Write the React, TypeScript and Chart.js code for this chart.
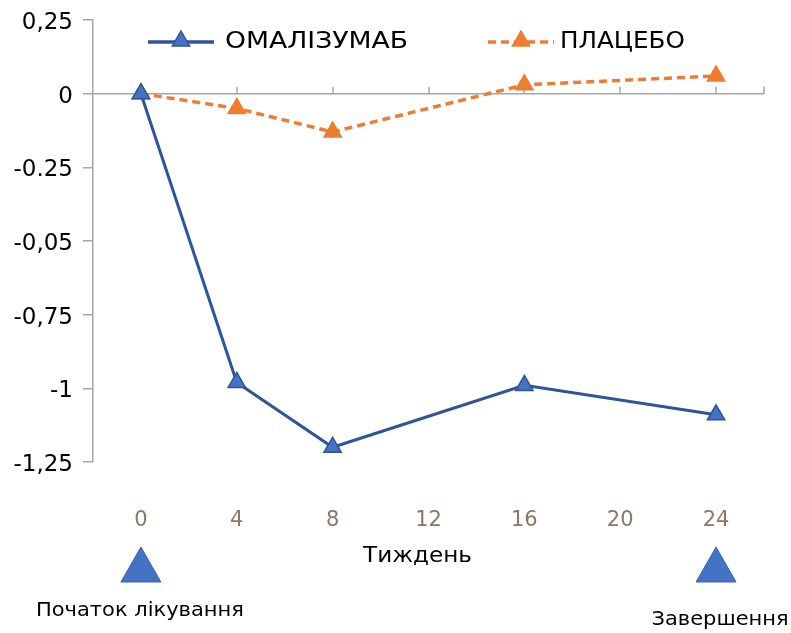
import React, { useEffect, useRef } from "react";
import { Chart, registerables } from "chart.js";

Chart.register(...registerables);

const weeks = [0, 4, 8, 16, 24];
const omalizumab = [0, -0.98, -1.2, -0.99, -1.09];
const placebo = [0, -0.05, -0.13, 0.03, 0.06];
const seriesNames = ["ОМАЛІЗУМАБ", "ПЛАЦЕБО"];
const yTickLabels = ["0,25", "0", "-0.25", "-0,05", "-0,75", "-1", "-1,25"];
const xTickValues = [0, 4, 8, 12, 16, 20, 24];
const xTitle = "Тиждень";
const milestones = [
  { week: 0, label: "Початок лікування" },
  { week: 24, label: "Завершення" },
];

const FONT = "'DejaVu Sans', sans-serif";
const BLUE_FILL = "#4472c4";
const BLUE_LINE = "#2f5597";
const ORANGE = "#ed7d31";
const AXIS = "#a6a6a6";

function tri(ctx: CanvasRenderingContext2D, cx: number, cy: number, r: number) {
  ctx.beginPath();
  ctx.moveTo(cx, cy - r);
  ctx.lineTo(cx + r * 0.866, cy + r * 0.5);
  ctx.lineTo(cx - r * 0.866, cy + r * 0.5);
  ctx.closePath();
}

function stretchedText(
  ctx: CanvasRenderingContext2D,
  text: string,
  x: number,
  y: number,
  size: number,
  sx: number,
  align: CanvasTextAlign
) {
  ctx.save();
  ctx.font = `${size}px ${FONT}`;
  ctx.textAlign = align;
  ctx.textBaseline = "middle";
  ctx.fillStyle = "#000";
  ctx.translate(x, y);
  ctx.scale(sx, 1);
  ctx.fillText(text, 0, 0);
  ctx.restore();
}

const decor = {
  id: "decor",
  beforeDatasetsDraw(chart: any) {
    const { ctx, scales } = chart;
    const x = scales.x;
    const y = scales.y;
    const y0 = y.getPixelForValue(0);
    ctx.save();
    ctx.strokeStyle = AXIS;
    ctx.lineWidth = 1.5;
    [...xTickValues, x.max].forEach((v: number) => {
      const px = Math.round(x.getPixelForValue(v));
      ctx.beginPath();
      ctx.moveTo(px, y0);
      ctx.lineTo(px, y0 - 7);
      ctx.stroke();
    });
    ctx.restore();
  },
  afterDraw(chart: any) {
    const { ctx, chartArea, scales } = chart;
    const x = scales.x;
    ctx.save();
    const items = [
      { name: seriesNames[0], color: BLUE_LINE, fill: BLUE_FILL, dash: [] as number[], x0: 148, gap: 77, sx: 1.16 },
      { name: seriesNames[1], color: ORANGE, fill: ORANGE, dash: [8, 5], x0: 488, gap: 72, sx: 1.07 },
    ];
    const ly = 42;
    items.forEach((it) => {
      ctx.strokeStyle = it.color;
      ctx.lineWidth = 3.5;
      ctx.setLineDash(it.dash);
      ctx.beginPath();
      ctx.moveTo(it.x0, ly);
      ctx.lineTo(it.x0 + 66, ly);
      ctx.stroke();
      ctx.setLineDash([]);
      tri(ctx, it.x0 + 33, ly - 1, 10);
      ctx.fillStyle = it.fill;
      ctx.fill();
      ctx.lineWidth = 1.5;
      ctx.strokeStyle = it.color;
      ctx.stroke();
      stretchedText(ctx, it.name, it.x0 + it.gap, ly, 23, it.sx, "left");
    });
    stretchedText(ctx, xTitle, (chartArea.left + chartArea.right) / 2 - 11, 556, 22, 1.05, "center");
    milestones.forEach((m, i) => {
      const cx = x.getPixelForValue(m.week);
      ctx.beginPath();
      ctx.moveTo(cx, 547);
      ctx.lineTo(cx + 20, 582);
      ctx.lineTo(cx - 20, 582);
      ctx.closePath();
      ctx.fillStyle = BLUE_FILL;
      ctx.fill();
      ctx.strokeStyle = "#3a64b0";
      ctx.lineWidth = 1;
      ctx.stroke();
      stretchedText(ctx, m.label, cx + (i === 0 ? -1 : 4), i === 0 ? 611 : 620, 20, 1.05, "center");
    });
    ctx.restore();
  },
};

export default function App() {
  const ref = useRef<HTMLCanvasElement | null>(null);
  useEffect(() => {
    document.body.style.margin = "0";
    const canvas = ref.current!;
    const chart = new Chart(canvas, {
      type: "line",
      data: {
        datasets: [
          {
            label: seriesNames[0],
            data: weeks.map((w, i) => ({ x: w, y: omalizumab[i] })),
            borderColor: BLUE_LINE,
            backgroundColor: BLUE_FILL,
            borderWidth: 3,
            pointStyle: "triangle",
            pointRadius: 10,
            pointBorderWidth: 1.5,
            pointBorderColor: BLUE_LINE,
            pointBackgroundColor: BLUE_FILL,
          },
          {
            label: seriesNames[1],
            data: weeks.map((w, i) => ({ x: w, y: placebo[i] })),
            borderColor: ORANGE,
            backgroundColor: ORANGE,
            borderWidth: 3.5,
            borderDash: [8, 5],
            pointStyle: "triangle",
            pointRadius: 10,
            pointBorderWidth: 1.5,
            pointBorderColor: ORANGE,
            pointBackgroundColor: ORANGE,
          },
        ],
      },
      options: {
        responsive: false,
        animation: false,
        devicePixelRatio: 1,
        layout: { padding: { top: 20, right: 27, left: 0, bottom: 0 } },
        plugins: { legend: { display: false }, tooltip: { enabled: false } },
        scales: {
          x: {
            type: "linear",
            min: -2,
            max: 26,
            afterBuildTicks: (s: any) => {
              s.ticks = xTickValues.map((v) => ({ value: v }));
            },
            afterFit: (s: any) => {
              s.height = 171;
              s.paddingLeft = 0;
              s.paddingRight = 0;
            },
            grid: { display: false },
            border: { display: false },
            ticks: {
              color: "#8a7866",
              font: { family: FONT, size: 21 },
              padding: 38,
              maxRotation: 0,
              callback: (v: any) => String(v),
            },
          },
          y: {
            min: -1.25,
            max: 0.25,
            afterFit: (s: any) => {
              s.width = 93;
              s.paddingTop = 0;
              s.paddingBottom = 0;
            },
            grid: {
              drawOnChartArea: true,
              color: (c: any) => (c.tick && c.tick.value === 0 ? AXIS : "rgba(0,0,0,0)"),
              tickColor: AXIS,
              tickLength: 10,
              lineWidth: 1.5,
            },
            border: { display: true, color: AXIS, width: 1.5 },
            ticks: {
              stepSize: 0.25,
              color: "#000",
              padding: 10,
              labelOffset: 3,
              font: { family: FONT, size: 23 },
              callback: (v: any) => {
                const idx = Math.round((0.25 - Number(v)) / 0.25);
                return yTickLabels[idx] ?? "";
              },
            },
          },
        },
      },
      plugins: [decor],
    });
    return () => chart.destroy();
  }, []);
  return <canvas ref={ref} width={791} height={633} style={{ display: "block", width: 791, height: 633 }} />;
}
